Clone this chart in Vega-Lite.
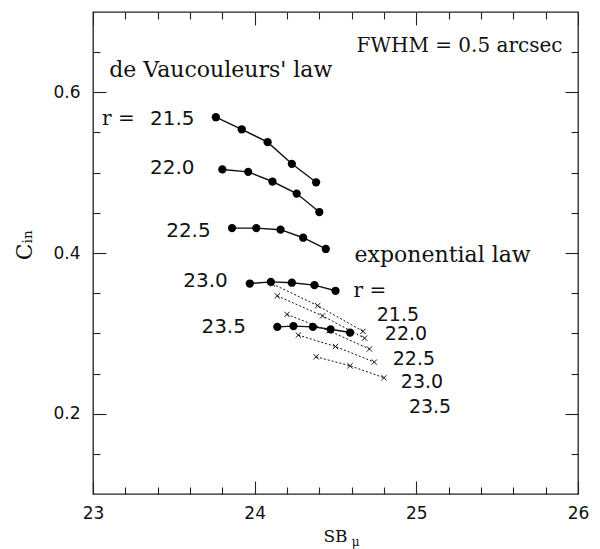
{
  "$schema": "https://vega.github.io/schema/vega-lite/v6.json",
  "width": 485,
  "height": 482,
  "autosize": {"type": "none"},
  "padding": {"left": 93, "top": 12, "right": 22, "bottom": 55},
  "background": "white",
  "config": {
    "view": {"stroke": "#222", "strokeWidth": 1.3},
    "axis": {
      "domain": false,
      "grid": false,
      "labelFont": "DejaVu Sans",
      "labelFontSize": 17,
      "labelColor": "#111",
      "labelOverlap": false,
      "tickColor": "#222",
      "tickWidth": 1.1,
      "labelFlush": false,
      "titleFont": "DejaVu Serif",
      "titleFontWeight": "normal",
      "titleColor": "#111"
    }
  },
  "datasets": {
    "dev": [
      {"r": "21.5", "x": 23.76, "y": 0.569}, {"r": "21.5", "x": 23.92, "y": 0.554}, {"r": "21.5", "x": 24.08, "y": 0.538}, {"r": "21.5", "x": 24.23, "y": 0.511}, {"r": "21.5", "x": 24.38, "y": 0.488},
      {"r": "22.0", "x": 23.80, "y": 0.504}, {"r": "22.0", "x": 23.96, "y": 0.501}, {"r": "22.0", "x": 24.11, "y": 0.489}, {"r": "22.0", "x": 24.26, "y": 0.474}, {"r": "22.0", "x": 24.40, "y": 0.451},
      {"r": "22.5", "x": 23.86, "y": 0.431}, {"r": "22.5", "x": 24.01, "y": 0.431}, {"r": "22.5", "x": 24.16, "y": 0.429}, {"r": "22.5", "x": 24.30, "y": 0.419}, {"r": "22.5", "x": 24.44, "y": 0.405},
      {"r": "23.0", "x": 23.97, "y": 0.362}, {"r": "23.0", "x": 24.10, "y": 0.364}, {"r": "23.0", "x": 24.23, "y": 0.363}, {"r": "23.0", "x": 24.37, "y": 0.360}, {"r": "23.0", "x": 24.50, "y": 0.353},
      {"r": "23.5", "x": 24.14, "y": 0.308}, {"r": "23.5", "x": 24.24, "y": 0.309}, {"r": "23.5", "x": 24.36, "y": 0.308}, {"r": "23.5", "x": 24.47, "y": 0.305}, {"r": "23.5", "x": 24.59, "y": 0.301}
    ],
    "exp": [
      {"r": "21.5", "x": 24.11, "y": 0.3615}, {"r": "21.5", "x": 24.39, "y": 0.3345}, {"r": "21.5", "x": 24.67, "y": 0.3025},
      {"r": "22.0", "x": 24.14, "y": 0.3466}, {"r": "22.0", "x": 24.42, "y": 0.3217}, {"r": "22.0", "x": 24.68, "y": 0.294},
      {"r": "22.5", "x": 24.20, "y": 0.3236}, {"r": "22.5", "x": 24.46, "y": 0.3031}, {"r": "22.5", "x": 24.71, "y": 0.2805},
      {"r": "23.0", "x": 24.27, "y": 0.2978}, {"r": "23.0", "x": 24.50, "y": 0.2836}, {"r": "23.0", "x": 24.74, "y": 0.2642},
      {"r": "23.5", "x": 24.38, "y": 0.2708}, {"r": "23.5", "x": 24.59, "y": 0.2596}, {"r": "23.5", "x": 24.80, "y": 0.2447}
    ],
    "serifBig": [
      {"t": "de Vaucouleurs' law", "x": 23.10, "y": 0.6186},
      {"t": "exponential law", "x": 24.618, "y": 0.3888}
    ],
    "serifSmall": [
      {"t": "FWHM = 0.5 arcsec", "x": 24.63, "y": 0.6497},
      {"t": "r =", "x": 23.056, "y": 0.559},
      {"t": "r =", "x": 24.612, "y": 0.3454}
    ],
    "numR": [
      {"t": "21.5", "x": 23.628, "y": 0.559},
      {"t": "22.0", "x": 23.628, "y": 0.4981},
      {"t": "22.5", "x": 23.728, "y": 0.4203},
      {"t": "23.0", "x": 23.834, "y": 0.3581},
      {"t": "23.5", "x": 23.946, "y": 0.301}
    ],
    "numL": [
      {"t": "21.5", "x": 24.755, "y": 0.3155},
      {"t": "22.0", "x": 24.805, "y": 0.2911},
      {"t": "22.5", "x": 24.854, "y": 0.2609},
      {"t": "23.0", "x": 24.904, "y": 0.2319},
      {"t": "23.5", "x": 24.954, "y": 0.2009}
    ],
    "sub": [
      {"t": "μ", "x": 24.6, "y": 0.035}
    ],
    "ytitle": [
      {"t": "Cᵢₙ", "x": 22.58, "y": 0.41}
    ]
  },
  "layer": [
    {
      "data": {"name": "exp"},
      "mark": {"type": "line", "strokeDash": [2, 2], "strokeWidth": 1, "color": "#111"},
      "encoding": {
        "x": {"field": "x", "type": "quantitative", "scale": {"domain": [23, 26], "nice": false, "zero": false},
          "axis": {"orient": "bottom", "values": [23, 24, 25, 26], "format": "d", "tickSize": -13,
            "labelPadding": 24, "title": "SB", "titleFontSize": 17,
            "titleX": 242, "titleY": 47, "titleAlign": "center", "titleBaseline": "alphabetic"}},
        "y": {"field": "y", "type": "quantitative", "scale": {"domain": [0.1, 0.7], "nice": false, "zero": false},
          "axis": {"orient": "left", "values": [0.2, 0.4, 0.6], "format": ".1f", "tickSize": -13,
            "labelPadding": 26, "title": null}},
        "detail": {"field": "r", "type": "nominal"},
        "order": {"field": "x", "type": "quantitative"}
      }
    },
    {
      "data": {"name": "exp"},
      "mark": {"type": "point", "shape": "M-1,-1L1,1M-1,1L1,-1", "size": 28, "filled": false, "strokeWidth": 1, "color": "#111", "opacity": 1},
      "encoding": {
        "x": {"field": "x", "type": "quantitative",
          "axis": {"orient": "top", "values": [23, 24, 25, 26], "tickSize": -13, "labels": false, "title": null}},
        "y": {"field": "y", "type": "quantitative",
          "axis": {"orient": "right", "values": [0.2, 0.4, 0.6], "tickSize": -13, "labels": false, "title": null}}
      }
    },
    {
      "data": {"name": "dev"},
      "mark": {"type": "line", "strokeWidth": 1.4, "color": "#111"},
      "encoding": {
        "x": {"field": "x", "type": "quantitative",
          "axis": {"orient": "bottom", "values": [23.2, 23.4, 23.6, 23.8, 24.2, 24.4, 24.6, 24.8, 25.2, 25.4, 25.6, 25.8], "tickSize": -7, "labels": false, "title": null}},
        "y": {"field": "y", "type": "quantitative",
          "axis": {"orient": "left", "values": [0.15, 0.25, 0.3, 0.35, 0.45, 0.5, 0.55, 0.65], "tickSize": -7, "labels": false, "title": null}},
        "detail": {"field": "r", "type": "nominal"},
        "order": {"field": "x", "type": "quantitative"}
      }
    },
    {
      "data": {"name": "dev"},
      "mark": {"type": "circle", "size": 68, "color": "#000", "opacity": 1},
      "encoding": {
        "x": {"field": "x", "type": "quantitative",
          "axis": {"orient": "top", "values": [23.2, 23.4, 23.6, 23.8, 24.2, 24.4, 24.6, 24.8, 25.2, 25.4, 25.6, 25.8], "tickSize": -7, "labels": false, "title": null}},
        "y": {"field": "y", "type": "quantitative",
          "axis": {"orient": "right", "values": [0.15, 0.25, 0.3, 0.35, 0.45, 0.5, 0.55, 0.65], "tickSize": -7, "labels": false, "title": null}}
      }
    },
    {
      "data": {"name": "serifBig"},
      "mark": {"type": "text", "font": "DejaVu Serif", "fontSize": 22, "align": "left", "baseline": "alphabetic", "color": "#111"},
      "encoding": {
        "x": {"field": "x", "type": "quantitative", "axis": null},
        "y": {"field": "y", "type": "quantitative", "axis": null},
        "text": {"field": "t", "type": "nominal"}
      }
    },
    {
      "data": {"name": "serifSmall"},
      "mark": {"type": "text", "font": "DejaVu Serif", "fontSize": 20, "align": "left", "baseline": "alphabetic", "color": "#111"},
      "encoding": {
        "x": {"field": "x", "type": "quantitative", "axis": null},
        "y": {"field": "y", "type": "quantitative", "axis": null},
        "text": {"field": "t", "type": "nominal"}
      }
    },
    {
      "data": {"name": "numR"},
      "mark": {"type": "text", "font": "DejaVu Sans", "fontSize": 20, "align": "right", "baseline": "alphabetic", "color": "#111"},
      "encoding": {
        "x": {"field": "x", "type": "quantitative", "axis": null},
        "y": {"field": "y", "type": "quantitative", "axis": null},
        "text": {"field": "t", "type": "nominal"}
      }
    },
    {
      "data": {"name": "numL"},
      "mark": {"type": "text", "font": "DejaVu Sans", "fontSize": 19, "align": "left", "baseline": "alphabetic", "color": "#111"},
      "encoding": {
        "x": {"field": "x", "type": "quantitative", "axis": null},
        "y": {"field": "y", "type": "quantitative", "axis": null},
        "text": {"field": "t", "type": "nominal"}
      }
    },
    {
      "data": {"name": "sub"},
      "mark": {"type": "text", "font": "DejaVu Serif", "fontSize": 12, "align": "left", "baseline": "alphabetic", "color": "#111"},
      "encoding": {
        "x": {"field": "x", "type": "quantitative", "axis": null},
        "y": {"field": "y", "type": "quantitative", "axis": null},
        "text": {"field": "t", "type": "nominal"}
      }
    },
    {
      "data": {"name": "ytitle"},
      "mark": {"type": "text", "font": "DejaVu Serif", "fontSize": 22, "align": "center", "baseline": "middle", "angle": 270, "color": "#111"},
      "encoding": {
        "x": {"field": "x", "type": "quantitative", "axis": null},
        "y": {"field": "y", "type": "quantitative", "axis": null},
        "text": {"field": "t", "type": "nominal"}
      }
    }
  ],
  "resolve": {"axis": {"x": "independent", "y": "independent"}}
}
